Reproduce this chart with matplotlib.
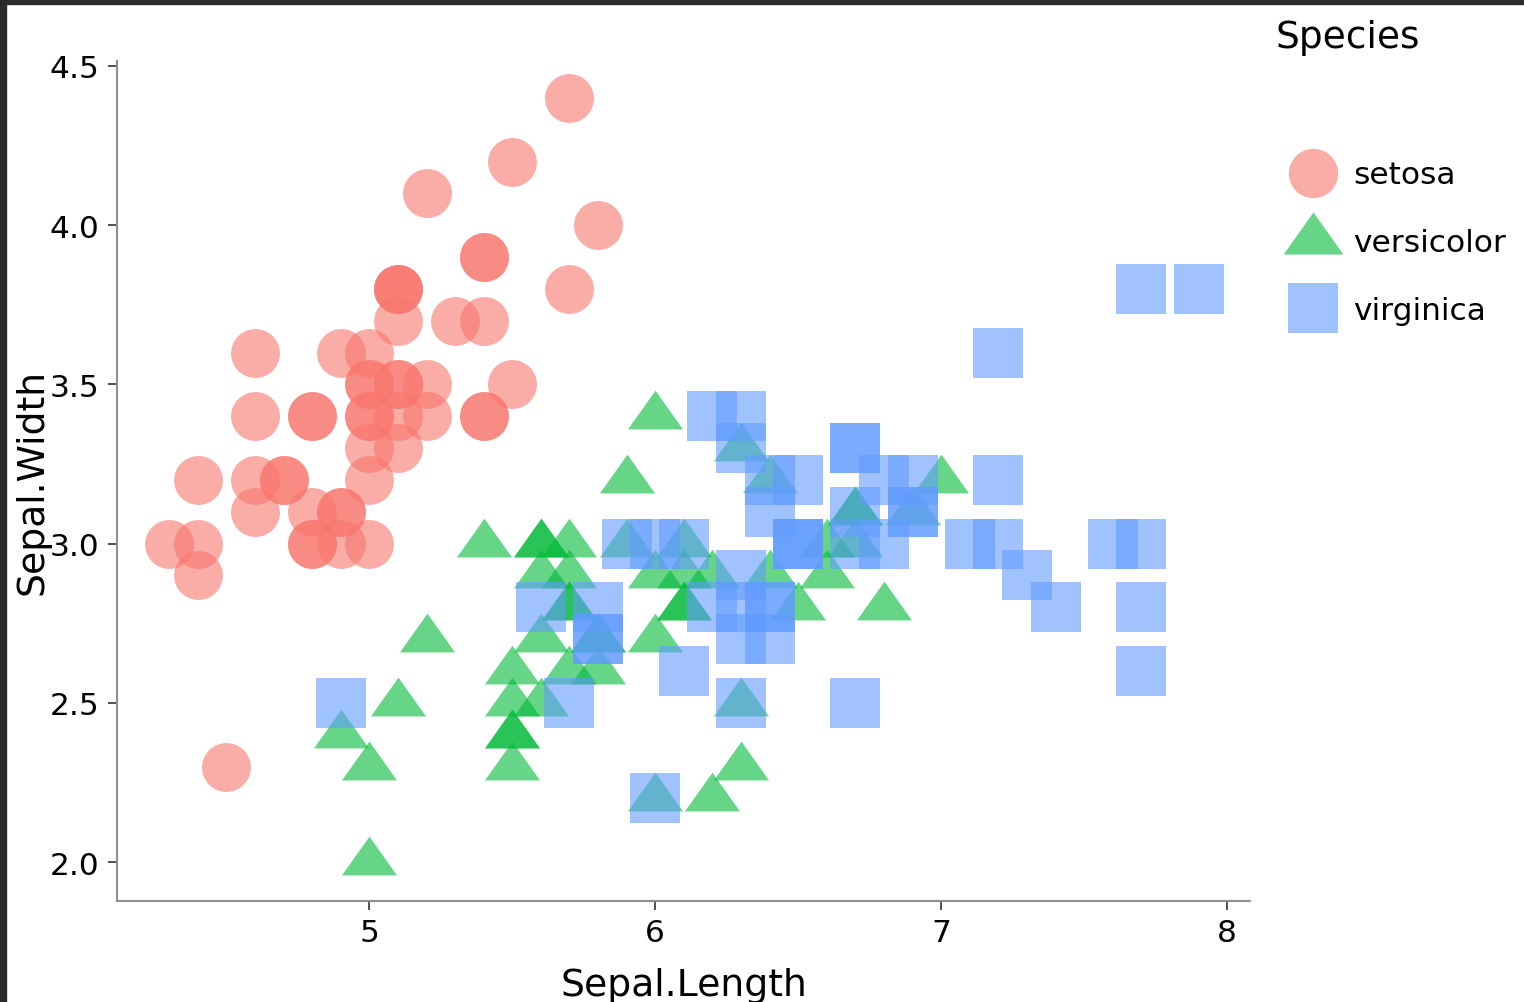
import matplotlib
matplotlib.use("Agg")
import matplotlib.pyplot as plt
from matplotlib.path import Path
from matplotlib.lines import Line2D
from matplotlib.patches import Rectangle

# Edgar Anderson's iris data: sepal length / width per species
species = ["setosa", "versicolor", "virginica"]

setosa_length = [5.1, 4.9, 4.7, 4.6, 5.0, 5.4, 4.6, 5.0, 4.4, 4.9,
                 5.4, 4.8, 4.8, 4.3, 5.8, 5.7, 5.4, 5.1, 5.7, 5.1,
                 5.4, 5.1, 4.6, 5.1, 4.8, 5.0, 5.0, 5.2, 5.2, 4.7,
                 4.8, 5.4, 5.2, 5.5, 4.9, 5.0, 5.5, 4.9, 4.4, 5.1,
                 5.0, 4.5, 4.4, 5.0, 5.1, 4.8, 5.1, 4.6, 5.3, 5.0]
setosa_width = [3.5, 3.0, 3.2, 3.1, 3.6, 3.9, 3.4, 3.4, 2.9, 3.1,
                3.7, 3.4, 3.0, 3.0, 4.0, 4.4, 3.9, 3.5, 3.8, 3.8,
                3.4, 3.7, 3.6, 3.3, 3.4, 3.0, 3.4, 3.5, 3.4, 3.2,
                3.1, 3.4, 4.1, 4.2, 3.1, 3.2, 3.5, 3.6, 3.0, 3.4,
                3.5, 2.3, 3.2, 3.5, 3.8, 3.0, 3.8, 3.2, 3.7, 3.3]

versicolor_length = [7.0, 6.4, 6.9, 5.5, 6.5, 5.7, 6.3, 4.9, 6.6, 5.2,
                     5.0, 5.9, 6.0, 6.1, 5.6, 6.7, 5.6, 5.8, 6.2, 5.6,
                     5.9, 6.1, 6.3, 6.1, 6.4, 6.6, 6.8, 6.7, 6.0, 5.7,
                     5.5, 5.5, 5.8, 6.0, 5.4, 6.0, 6.7, 6.3, 5.6, 5.5,
                     5.5, 6.1, 5.8, 5.0, 5.6, 5.7, 5.7, 6.2, 5.1, 5.7]
versicolor_width = [3.2, 3.2, 3.1, 2.3, 2.8, 2.8, 3.3, 2.4, 2.9, 2.7,
                    2.0, 3.0, 2.2, 2.9, 2.9, 3.1, 3.0, 2.7, 2.2, 2.5,
                    3.2, 2.8, 2.5, 2.8, 2.9, 3.0, 2.8, 3.0, 2.9, 2.6,
                    2.4, 2.4, 2.7, 2.7, 3.0, 3.4, 3.1, 2.3, 3.0, 2.5,
                    2.6, 3.0, 2.6, 2.3, 2.7, 3.0, 2.9, 2.9, 2.5, 2.8]

virginica_length = [6.3, 5.8, 7.1, 6.3, 6.5, 7.6, 4.9, 7.3, 6.7, 7.2,
                    6.5, 6.4, 6.8, 5.7, 5.8, 6.4, 6.5, 7.7, 7.7, 6.0,
                    6.9, 5.6, 7.7, 6.3, 6.7, 7.2, 6.2, 6.1, 6.4, 7.2,
                    7.4, 7.9, 6.4, 6.3, 6.1, 7.7, 6.3, 6.4, 6.0, 6.9,
                    6.7, 6.9, 5.8, 6.8, 6.7, 6.7, 6.3, 6.5, 6.2, 5.9]
virginica_width = [3.3, 2.7, 3.0, 2.9, 3.0, 3.0, 2.5, 2.9, 2.5, 3.6,
                   3.2, 2.7, 3.0, 2.5, 2.8, 3.2, 3.0, 3.8, 2.6, 2.2,
                   3.2, 2.8, 2.8, 2.7, 3.3, 3.2, 2.8, 3.0, 2.8, 3.0,
                   2.8, 3.8, 2.8, 2.8, 2.6, 3.0, 3.4, 3.1, 3.0, 3.1,
                   3.1, 3.1, 2.7, 3.2, 3.3, 3.0, 2.5, 3.0, 3.4, 3.0]

x_ticks = [5, 6, 7, 8]
y_ticks = [2.0, 2.5, 3.0, 3.5, 4.0, 4.5]

# Flat, wide triangle centred on its centroid
tri = Path([(0, 0.94), (-1, -0.47), (1, -0.47), (0, 0.94)],
           [Path.MOVETO, Path.LINETO, Path.LINETO, Path.CLOSEPOLY])

colors = ["#F8766D", "#00BA38", "#619CFF"]
markers = ["o", tri, "s"]
sizes = [1240, 1570, 1300]
legend_sizes = [35.5, 43, 36]
xs = [setosa_length, versicolor_length, virginica_length]
ys = [setosa_width, versicolor_width, virginica_width]

plt.rcParams["font.family"] = "DejaVu Sans"

fig = plt.figure(figsize=(15.24, 10.03), dpi=100)
ax = fig.add_axes([117 / 1524, 1 - 902 / 1003, (1250 - 117) / 1524, (902 - 62) / 1003])

for name, x, y, c, m, s in zip(species, xs, ys, colors, markers, sizes):
    ax.scatter(x, y, s=s, marker=m, color=c, alpha=0.6, linewidths=0, label=name)

ax.set_xlim(4.1175, 8.080)
ax.set_ylim(1.8776, 4.5157)
ax.set_xticks(x_ticks)
ax.set_xticklabels([str(v) for v in x_ticks])
ax.set_yticks(y_ticks)
ax.set_yticklabels([f"{v:.1f}" for v in y_ticks])

for side in ("top", "right"):
    ax.spines[side].set_visible(False)
for side in ("left", "bottom"):
    ax.spines[side].set_color("#8f8f8f")
    ax.spines[side].set_linewidth(1.5)
ax.tick_params(axis="both", length=6.5, width=1.2, color="#333333",
               labelsize=22.5, labelcolor="black", pad=6)

ax.set_xlabel("Sepal.Length", fontsize=27.2)
ax.set_ylabel("Sepal.Width", fontsize=27.2)
ax.xaxis.set_label_coords(0.5, -0.078)
ax.yaxis.set_label_coords(-0.059, 0.5)

# Legend
fig.text(1276 / 1524, 1 - 38 / 1003, "Species", fontsize=27, ha="left", va="center")
handles = [Line2D([], [], linestyle="none", marker=m, markersize=ms,
                  markerfacecolor=c, markeredgewidth=0, alpha=0.6)
           for m, ms, c in zip(markers, legend_sizes, colors)]
fig.legend(handles, species, loc="upper left",
           bbox_to_anchor=(1288 / 1524, 1 - 161.5 / 1003),
           frameon=False, fontsize=22.5, borderpad=0, borderaxespad=0,
           handlelength=1.6, handletextpad=0.48, labelspacing=1.24)

# Dark frame along the top and left edges
fig.patches.append(Rectangle((0, 1 - 5 / 1003), 1, 5 / 1003, transform=fig.transFigure,
                             color="#2b2b2b", zorder=10))
fig.patches.append(Rectangle((0, 0), 6 / 1524, 1, transform=fig.transFigure,
                             color="#2b2b2b", zorder=10))

fig.savefig("out.png", dpi=100)
